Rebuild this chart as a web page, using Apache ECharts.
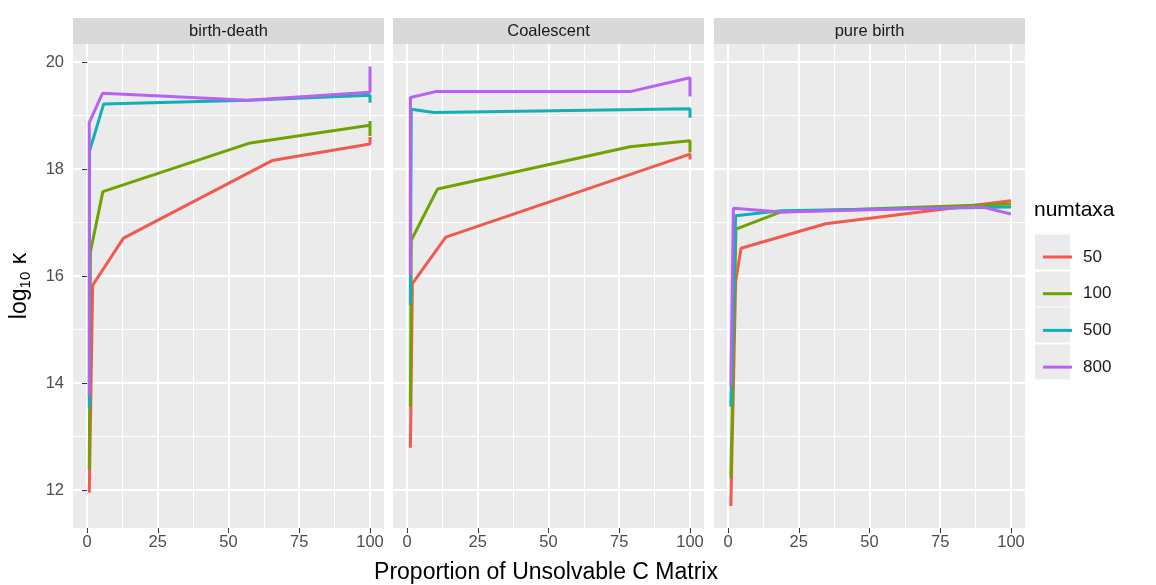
<!DOCTYPE html>
<html>
<head>
<meta charset="utf-8">
<script src="https://cdn.jsdelivr.net/npm/echarts@6/dist/echarts.min.js"></script>
<style>html,body{margin:0;padding:0;background:#fff;}#c{width:1156px;height:585px;}</style>
</head>
<body>
<div id="c"></div>
<script>
// ---- data ----
const panels = ['birth-death', 'Coalescent', 'pure birth'];
const taxa = ['50', '100', '500', '800'];
const xMajor = [0, 25, 50, 75, 100];
const xMinor = [12.5, 37.5, 62.5, 87.5];
const yMajor = [12, 14, 16, 18, 20];
const yMinor = [13, 15, 17, 19];

// birth-death
const bd50  = [[0.8,11.95],[2,15.83],[12.9,16.71],[65.4,18.16],[100,18.47],[100,18.6]];
const bd100 = [[0.8,12.38],[1.2,16.45],[5.6,17.58],[57.7,18.49],[100,18.82],[100,18.9],[100,18.62]];
const bd500 = [[0.8,13.53],[0.9,18.34],[5.9,19.22],[57,19.29],[100,19.38],[100,19.24]];
const bd800 = [[0.8,13.77],[0.8,18.87],[5.5,19.42],[57,19.29],[100,19.44],[100,19.92]];
// Coalescent
const co50  = [[1.2,12.79],[1.9,15.86],[13.7,16.73],[100,18.28],[100,18.18]];
const co100 = [[1.2,13.56],[1.5,16.67],[10.8,17.63],[78.8,18.42],[100,18.53],[100,18.31]];
const co500 = [[1.2,15.46],[1.5,19.12],[9.6,19.06],[100,19.13],[100,18.96]];
const co800 = [[1.2,16.01],[1.2,19.34],[10.1,19.45],[78.8,19.45],[100,19.71],[100,19.36]];
// pure birth
const pb50  = [[1,11.7],[2.7,15.9],[4.6,16.52],[34.5,16.98],[100,17.41]];
const pb100 = [[1,12.23],[2.8,16.88],[18.7,17.2],[100,17.35]];
const pb500 = [[1,13.56],[2.7,17.13],[18.7,17.22],[100,17.29]];
const pb800 = [[1,13.94],[1.9,17.27],[18.7,17.2],[90,17.29],[100,17.16]];

const seriesData = [[bd50, bd100, bd500, bd800],[co50, co100, co500, co800],[pb50, pb100, pb500, pb800]];
const colors = ['#F2594F', '#6FA300', '#0FB0B6', '#B862F5'];

// ---- layout ----
const gridLefts = [73, 393, 714];
const gridTop = 44, gridW = 311, gridH = 484;
const xMin = -4.95, xMax = 104.95, yMin = 11.29, yMax = 20.34;
const FONT = '"Liberation Sans", Arial, sans-serif';

const grids = [], xAxes = [], yAxes = [], series = [], graphics = [];
panels.forEach((p, i) => {
  grids.push({left: gridLefts[i], top: gridTop, width: gridW, height: gridH,
    show: true, backgroundColor: '#EBEBEB', borderWidth: 0});
  xAxes.push({type: 'value', gridIndex: i, min: xMin, max: xMax, position: 'bottom',
    axisLine: {show: false},
    axisTick: {show: true, length: 5, lineStyle: {color: '#333', width: 1}, customValues: xMajor},
    axisLabel: {customValues: xMajor, color: '#4D4D4D', fontSize: 16.5, margin: 6, fontFamily: FONT},
    splitLine: {show: true, lineStyle: {color: '#fff', width: 2}}});
  xAxes.push({type: 'value', gridIndex: i, min: xMin, max: xMax, position: 'top',
    axisLine: {show: false}, axisTick: {show: false, customValues: xMinor},
    axisLabel: {show: false, customValues: xMinor},
    splitLine: {show: true, lineStyle: {color: '#fff', width: 1}}});
  yAxes.push({type: 'value', gridIndex: i, min: yMin, max: yMax, position: 'left',
    axisLine: {show: false},
    axisTick: {show: i === 0, length: 5, lineStyle: {color: '#333', width: 1}, customValues: yMajor},
    axisLabel: {show: i === 0, customValues: yMajor, color: '#4D4D4D', fontSize: 16.5, margin: 9, fontFamily: FONT},
    splitLine: {show: true, lineStyle: {color: '#fff', width: 2}},
    name: i === 0 ? '{a|log}{s|10}{a| \u03BA}' : '',
    nameLocation: 'middle', nameRotate: 90, nameGap: 40,
    nameTextStyle: {rich: {
      a: {fontSize: 23, color: '#000', fontFamily: FONT},
      s: {fontSize: 15, color: '#000', fontFamily: FONT, padding: [11, 1, 0, 0]}
    }}});
  yAxes.push({type: 'value', gridIndex: i, min: yMin, max: yMax, position: 'right',
    axisLine: {show: false}, axisTick: {show: false, customValues: yMinor},
    axisLabel: {show: false, customValues: yMinor},
    splitLine: {show: true, lineStyle: {color: '#fff', width: 1}}});
  taxa.forEach((t, k) => {
    series.push({type: 'line', name: t, xAxisIndex: 2 * i, yAxisIndex: 2 * i,
      data: seriesData[i][k], showSymbol: false, symbol: 'none',
      lineStyle: {color: colors[k], width: 3}, itemStyle: {color: colors[k]},
      z: 3 + k, animation: false});
  });
  graphics.push({type: 'rect', shape: {x: gridLefts[i], y: 18, width: gridW, height: 26},
    style: {fill: '#D9D9D9'}});
  graphics.push({type: 'text', x: gridLefts[i] + gridW / 2, y: 31,
    style: {text: p, fill: '#1A1A1A', font: '16.5px ' + FONT, textAlign: 'center', textVerticalAlign: 'middle'}});
});

// legend key backgrounds
const keyCenters = [252, 289, 325, 362];
keyCenters.forEach(cy => {
  graphics.push({type: 'rect', shape: {x: 1035, y: cy - 17.5, width: 35, height: 35}, style: {fill: '#EBEBEB'}});
});
graphics.push({type: 'text', x: 1034, y: 210,
  style: {text: 'numtaxa', fill: '#000', font: '21px ' + FONT, textVerticalAlign: 'middle'}});
graphics.push({type: 'text', x: 546, y: 573,
  style: {text: 'Proportion of Unsolvable C Matrix', fill: '#000', font: '23px ' + FONT, textAlign: 'center', textVerticalAlign: 'middle'}});

const option = {
  animation: false,
  grid: grids, xAxis: xAxes, yAxis: yAxes, series: series,
  legend: {data: taxa, orient: 'vertical', left: 1038, top: 242, icon: 'rect',
    itemWidth: 29, itemHeight: 3, itemGap: 16.7, selectedMode: false,
    textStyle: {fontSize: 17, color: '#1A1A1A', fontFamily: FONT, lineHeight: 20, padding: [0, 0, 0, 6]}},
  graphic: graphics
};
const chart = echarts.init(document.getElementById('c'), null, {renderer: 'canvas'});
chart.setOption(option);
</script>
</body>
</html>
